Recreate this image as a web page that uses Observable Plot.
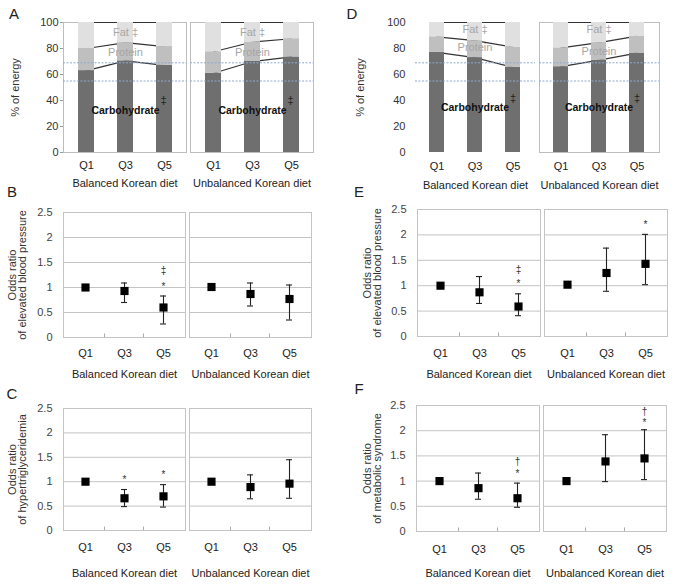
<!DOCTYPE html>
<html>
<head>
<meta charset="utf-8">
<script src="https://cdn.jsdelivr.net/npm/d3@7"></script>
<script src="https://cdn.jsdelivr.net/npm/@observablehq/plot@0.6"></script>
<style>
  body { margin: 0; background: #fff; }
  #root { position: relative; width: 674px; height: 584px; background: #fff; font-family: "Liberation Sans", Arial, sans-serif; }
  .panel { position: absolute; }
  .letter { position: absolute; font-size: 15px; color: #222; transform: translate(-50%, -50%); }
</style>
</head>
<body>
<div id="root"></div>
<script>
// ---------- data ----------
const quintiles = ["Q1", "Q3", "Q5"];
const diets = ["Balanced Korean diet", "Unbalanced Korean diet"];
const energyTicks = [0, 20, 40, 60, 80, 100];
const oddsTicks = [0, 0.5, 1, 1.5, 2, 2.5];
const oddsGrid = [0.5, 1, 1.5, 2];
const refLines = [55, 69];
const fatTop = [100, 100, 100, 100, 100, 100];

// order in each array: balanced Q1, Q3, Q5, unbalanced Q1, Q3, Q5
const carbA = [63, 70.5, 67, 61, 70, 73.5];
const proteinTopA = [80, 84.5, 81.5, 77.5, 85, 87.5];
const carbD = [77, 73, 65.5, 66, 71, 76.5];
const proteinTopD = [89, 86, 81, 80.5, 84.5, 89.5];

const orB = [1.0, 0.93, 0.60, 1.01, 0.87, 0.77];
const loB = [null, 0.70, 0.27, null, 0.63, 0.35];
const hiB = [null, 1.09, 0.83, null, 1.09, 1.05];

const orC = [1.0, 0.66, 0.70, 1.0, 0.89, 0.96];
const loC = [null, 0.49, 0.48, null, 0.65, 0.66];
const hiC = [null, 0.84, 0.94, null, 1.14, 1.45];

const orE = [1.0, 0.87, 0.59, 1.02, 1.25, 1.43];
const loE = [null, 0.65, 0.41, null, 0.89, 1.02];
const hiE = [null, 1.18, 0.84, null, 1.74, 2.01];

const orF = [1.0, 0.86, 0.66, 1.0, 1.39, 1.45];
const loF = [null, 0.64, 0.48, null, 0.99, 1.03];
const hiF = [null, 1.16, 0.96, null, 1.92, 2.02];

// text annotations: diet index, quintile, value, text
const labelsA = [
  {d: 0, q: "Q3", v: 92, t: "Fat ‡"}, {d: 0, q: "Q3", v: 77, t: "Protein"},
  {d: 1, q: "Q3", v: 92, t: "Fat ‡"}, {d: 1, q: "Q3", v: 77, t: "Protein"}
];
const carbLabelsA = [{d: 0, q: "Q3", v: 32, t: "Carbohydrate"}, {d: 1, q: "Q3", v: 32, t: "Carbohydrate"}];
const sigA = [{d: 0, q: "Q3", v: 40, t: "‡"}, {d: 1, q: "Q3", v: 40, t: "‡"}];
const labelsD = [
  {d: 0, q: "Q3", v: 95, t: "Fat ‡"}, {d: 0, q: "Q3", v: 80.5, t: "Protein"},
  {d: 1, q: "Q3", v: 95, t: "Fat ‡"}, {d: 1, q: "Q3", v: 78, t: "Protein"}
];
const carbLabelsD = [{d: 0, q: "Q3", v: 34.5, t: "Carbohydrate"}, {d: 1, q: "Q3", v: 34.5, t: "Carbohydrate"}];
const sigD = [{d: 0, q: "Q3", v: 41.5, t: "‡"}, {d: 1, q: "Q3", v: 41.5, t: "‡"}];

const notesB = [{d: 0, q: "Q5", v: 1.05, t: "*"}, {d: 0, q: "Q5", v: 1.38, t: "‡"}];
const notesC = [{d: 0, q: "Q3", v: 1.08, t: "*"}, {d: 0, q: "Q5", v: 1.19, t: "*"}];
const notesE = [{d: 0, q: "Q5", v: 1.08, t: "*"}, {d: 0, q: "Q5", v: 1.35, t: "‡"}, {d: 1, q: "Q5", v: 2.24, t: "*"}];
const notesF = [{d: 0, q: "Q5", v: 1.19, t: "*"}, {d: 0, q: "Q5", v: 1.42, t: "†"}, {d: 1, q: "Q5", v: 2.2, t: "*"}, {d: 1, q: "Q5", v: 2.42, t: "†"}];

// ---------- helpers ----------
const FONT = "'Liberation Sans', Arial, sans-serif";
const withDiet = arr => arr.map(n => ({...n, diet: diets[n.d]}));

function energyPanel(c) {
  const rows = diets.flatMap((diet, i) => quintiles.map((q, j) => ({
    diet, q, carb: c.carb[i * 3 + j], prot: c.prot[i * 3 + j], top: fatTop[i * 3 + j]
  })));
  const frameMarks = c.frameAll
    ? [Plot.frame({stroke: "#bdbdbd"})]
    : [Plot.frame({fx: () => diets[1], stroke: "#bdbdbd"})];
  return Plot.plot({
    width: 337, height: c.height,
    marginLeft: c.mL, marginRight: c.mR, marginTop: c.mT, marginBottom: c.mB,
    style: {fontFamily: FONT, fontSize: "11px", color: "#333", background: "transparent", overflow: "visible"},
    fx: {domain: diets, paddingInner: 0.03, paddingOuter: 0},
    x: {domain: quintiles, paddingInner: 0.6, paddingOuter: 0.345},
    y: {domain: [0, 100]},
    marks: [
      ...frameMarks,
      Plot.lineY(rows, {x: "q", y: "carb", fx: "diet", stroke: "#333", strokeWidth: 1.2}),
      Plot.lineY(rows, {x: "q", y: "prot", fx: "diet", stroke: "#333", strokeWidth: 1.2}),
      Plot.lineY(rows, {x: "q", y: "top", fx: "diet", stroke: "#333", strokeWidth: 1.2}),
      Plot.barY(rows, {x: "q", y1: 0, y2: "carb", fx: "diet", fill: "#6f6f6f"}),
      Plot.barY(rows, {x: "q", y1: "carb", y2: "prot", fx: "diet", fill: "#bfbfbf"}),
      Plot.barY(rows, {x: "q", y1: "prot", y2: "top", fx: "diet", fill: "#e0e0e0"}),
      Plot.ruleY(refLines, {stroke: "#8ea8d2", strokeWidth: 1, strokeDasharray: "2,1.5"}),
      Plot.text(withDiet(c.labels), {x: "q", y: "v", fx: "diet", text: "t", fill: "#a6a6a6", fontSize: 11}),
      Plot.text(withDiet(c.carbLabels), {x: "q", y: "v", fx: "diet", text: "t", fill: "#111", fontSize: 10.5, fontWeight: "bold"}),
      Plot.text(withDiet(c.sig), {x: "q", y: "v", fx: "diet", text: "t", fill: "#222", fontSize: 11, dx: 38}),
      Plot.text([{diet: diets[0], t: "% of energy"}], {fx: "diet", text: "t", frameAnchor: "left", textAnchor: "middle", rotate: -90, dx: c.labelDx, fontSize: 11, fill: "#333"}),
      Plot.axisY({ticks: energyTicks, tickSize: c.yTickSize, tickPadding: c.yTickPad, label: null, stroke: "#999", fill: "#333"}),
      Plot.axisX({tickSize: 0, tickPadding: c.xPad, label: null, fill: "#222"}),
      Plot.axisFx({anchor: "bottom", tickSize: 0, tickPadding: c.fxPad, label: null, fill: "#222"})
    ]
  });
}

function oddsPanel(c) {
  const rows = diets.flatMap((diet, i) => quintiles.map((q, j) => ({
    diet, q, or: c.or[i * 3 + j], lo: c.lo[i * 3 + j], hi: c.hi[i * 3 + j]
  })));
  const ci = rows.filter(d => d.lo != null);
  return Plot.plot({
    width: 337, height: c.height,
    marginLeft: c.mL, marginRight: c.mR, marginTop: c.mT, marginBottom: c.mB,
    style: {fontFamily: FONT, fontSize: "11px", color: "#333", background: "transparent", overflow: "visible"},
    fx: {domain: diets, paddingInner: 0.03, paddingOuter: 0},
    x: {domain: quintiles, paddingInner: 0.6, paddingOuter: 0.345},
    y: {domain: [0, 2.5]},
    marks: [
      Plot.ruleY(oddsGrid, {stroke: "#c4c4c4"}),
      Plot.frame({stroke: "#c4c4c4"}),
      Plot.ruleX(quintiles.slice(1), {x: d => d, y1: 0, y2: 0.07, dx: -20, stroke: "#aaa"}),
      Plot.ruleX(ci, {x: "q", fx: "diet", y1: "lo", y2: "hi", stroke: "#222", strokeWidth: 1.1}),
      Plot.tickY(ci, {x: "q", fx: "diet", y: "lo", inset: 5, stroke: "#222", strokeWidth: 1.1}),
      Plot.tickY(ci, {x: "q", fx: "diet", y: "hi", inset: 5, stroke: "#222", strokeWidth: 1.1}),
      Plot.dot(rows, {x: "q", fx: "diet", y: "or", symbol: "square", r: 4.6, fill: "#000", stroke: "none"}),
      Plot.text(withDiet(c.notes), {x: "q", y: "v", fx: "diet", text: "t", fill: "#333", fontSize: 10, dy: 2}),
      Plot.text([{diet: diets[0], t: c.ylabel}], {fx: "diet", text: "t", frameAnchor: "left", textAnchor: "middle", rotate: -90, dx: c.labelDx, fontSize: 11, lineHeight: 0.92, fill: "#333"}),
      Plot.axisY({ticks: oddsTicks, tickFormat: d => String(d), tickSize: 0, tickPadding: 11, label: null, fill: "#444"}),
      Plot.axisX({tickSize: 0, tickPadding: c.xPad, label: null, fill: "#222"}),
      Plot.axisFx({anchor: "bottom", tickSize: 0, tickPadding: c.fxPad, label: null, fill: "#222"})
    ]
  });
}

// ---------- layout ----------
const root = document.getElementById("root");
function place(node, left, top) {
  const div = document.createElement("div");
  div.className = "panel";
  div.style.left = left + "px";
  div.style.top = top + "px";
  div.appendChild(node);
  root.appendChild(div);
}
function letter(t, x, y) {
  const div = document.createElement("div");
  div.className = "letter";
  div.style.left = x + "px";
  div.style.top = y + "px";
  div.textContent = t;
  root.appendChild(div);
}

place(energyPanel({carb: carbA, prot: proteinTopA, labels: labelsA, carbLabels: carbLabelsA, sig: sigA,
  height: 190, mL: 63, mR: 23, mT: 22, mB: 38, labelDx: -48, yTickSize: 3, yTickPad: 2, xPad: 9, fxPad: 27, frameAll: true}), 0, 0);
place(energyPanel({carb: carbD, prot: proteinTopD, labels: labelsD, carbLabels: carbLabelsD, sig: sigD,
  height: 190, mL: 77, mR: 14, mT: 22, mB: 38, labelDx: -55, yTickSize: 0, yTickPad: 10, xPad: 10, fxPad: 29, frameAll: false}), 337, 0);
place(oddsPanel({or: orB, lo: loB, hi: hiB, notes: notesB, ylabel: "Odds ratio\nof elevated blood pressure",
  height: 190, mL: 63, mR: 25, mT: 22, mB: 43, labelDx: -46, xPad: 12, fxPad: 33}), 0, 190);
place(oddsPanel({or: orC, lo: loC, hi: hiC, notes: notesC, ylabel: "Odds ratio\nof hypertriglyceridemia",
  height: 194, mL: 63, mR: 25, mT: 18, mB: 54, labelDx: -46, xPad: 13, fxPad: 39}), 0, 390);
place(oddsPanel({or: orE, lo: loE, hi: hiE, notes: notesE, ylabel: "Odds ratio\nof elevated blood pressure",
  height: 190, mL: 79, mR: 6, mT: 19, mB: 44, labelDx: -45, xPad: 13, fxPad: 34}), 337, 190);
place(oddsPanel({or: orF, lo: loF, hi: hiF, notes: notesF, ylabel: "Odds ratio\nof metabolic syndrome",
  height: 194, mL: 78, mR: 7, mT: 15, mB: 53, labelDx: -44, xPad: 14, fxPad: 38}), 337, 390);

letter("A", 14, 13);
letter("B", 12, 191);
letter("C", 12, 393);
letter("D", 352, 13);
letter("E", 359, 191);
letter("F", 359, 388);
</script>
</body>
</html>
